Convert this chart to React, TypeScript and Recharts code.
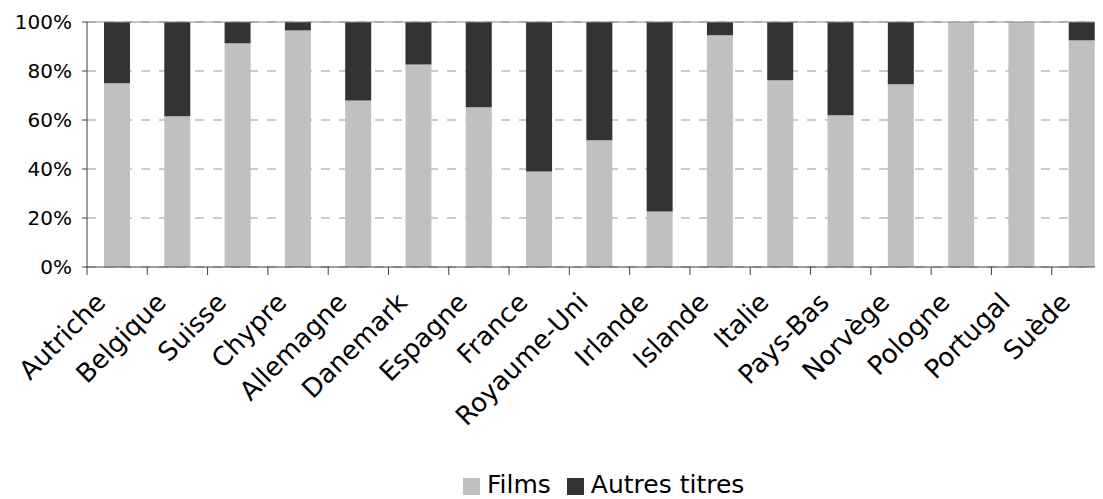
import React from 'react';
import { BarChart, Bar, XAxis, YAxis, CartesianGrid, Legend, ReferenceLine } from 'recharts';

const countries = [
    'Autriche', 'Belgique', 'Suisse', 'Chypre', 'Allemagne', 'Danemark', 'Espagne', 'France', 'Royaume-Uni',
    'Irlande', 'Islande', 'Italie', 'Pays-Bas', 'Norvège', 'Pologne', 'Portugal', 'Suède',
];
const films = [75.0, 61.5, 91.3, 96.6, 68.0, 82.7, 65.2, 39.0, 51.7, 22.7, 94.6, 76.2, 61.9, 74.6, 100, 100, 92.5];
const autresTitres = [25.0, 38.5, 8.7, 3.4, 32.0, 17.3, 34.8, 61.0, 48.3, 77.3, 5.4, 23.8, 38.1, 25.4, 0, 0, 7.5];
const yTicks = [0, 20, 40, 60, 80, 100];
const seriesOrder = ['Films', 'Autres titres'];

const data = countries.map((name, i) => ({ name, Films: films[i], 'Autres titres': autresTitres[i] }));

const FONT = '"DejaVu Sans", Verdana, sans-serif';
const AXIS_COLOR = '#404040';

// category label rotated 45°, plus a tick mark on the left edge of each band
const CountryTick = (props: any) => {
    const { x, y, payload } = props;
    const half = payload?.offset ?? 30;
    const ax = x - 10;
    const ay = y + 37;
    return (
        <g>
            <line x1={x - half} y1={y} x2={x - half} y2={y + 8} stroke={AXIS_COLOR} strokeWidth={1} />
            <text
                x={ax}
                y={ay}
                textAnchor="end"
                fontSize={26}
                fontFamily={FONT}
                fill="#000"
                transform={`rotate(-45 ${ax} ${ay})`}
            >
                {payload.value}
            </text>
        </g>
    );
};

const App: React.FC = () => {
    return (
        <div style={{ width: 1095, height: 491, overflow: 'hidden' }}>
            <BarChart
                width={1120}
                height={491}
                data={data}
                margin={{ top: 14, right: 16, left: 0, bottom: 0 }}
                style={{ fontFamily: FONT }}
            >
                <CartesianGrid vertical={false} stroke="#999" strokeDasharray="9 9" />
                <ReferenceLine y={100} stroke="#8c8c8c" />
                <XAxis
                    dataKey="name"
                    interval={0}
                    height={203}
                    tickSize={0}
                    tickMargin={0}
                    tickLine={false}
                    stroke={AXIS_COLOR}
                    tick={<CountryTick />}
                />
                <YAxis
                    width={79}
                    domain={[0, 100]}
                    ticks={yTicks}
                    tickFormatter={(v: number) => `${v}%`}
                    tickSize={5}
                    tickMargin={10}
                    stroke={AXIS_COLOR}
                    tick={{ fontSize: 20, fill: '#000', fontFamily: FONT }}
                />
                <Legend
                    verticalAlign="bottom"
                    iconType="square"
                    iconSize={17}
                    itemSorter={(item: any) => seriesOrder.indexOf(item.dataKey)}
                    formatter={(value: string) => (
                        <span style={{ color: '#000', paddingLeft: 3, marginRight: 6 }}>{value}</span>
                    )}
                    wrapperStyle={{ fontSize: 25, fontFamily: FONT, left: 455, width: 'auto' }}
                />
                <Bar dataKey="Films" stackId="a" fill="#c0c0c0" barSize={26} isAnimationActive={false} />
                <Bar dataKey="Autres titres" stackId="a" fill="#333333" barSize={26} isAnimationActive={false} />
            </BarChart>
        </div>
    );
};

export default App;
